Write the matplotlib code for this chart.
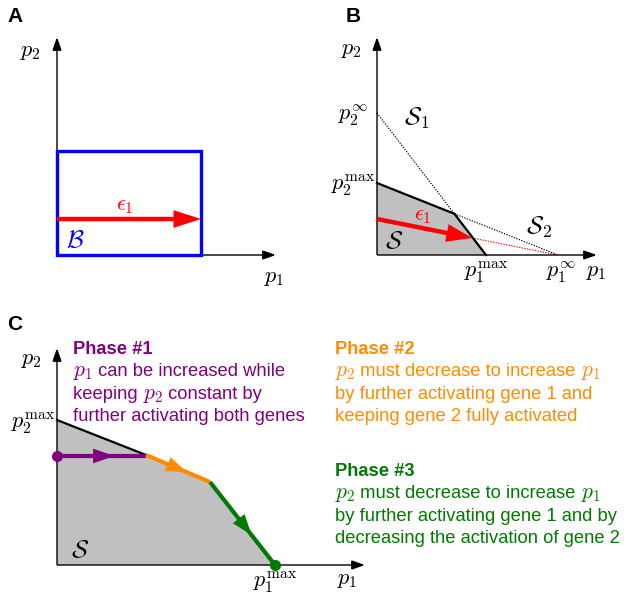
import matplotlib
matplotlib.use("Agg")
import matplotlib.pyplot as plt
from matplotlib.patches import FancyArrowPatch, Polygon, Rectangle

plt.rcParams['mathtext.fontset'] = 'cm'
plt.rcParams['font.family'] = ['Liberation Sans', 'DejaVu Sans']

W, H = 624, 595

# ---------------- data (diagram units, origin at axes crossing) ----------------
# Panel A
A_axis_len = [219, 218]          # x-axis, y-axis lengths
A_box = [144, 104]               # width, height of box B
A_eps_y = 36                     # height of epsilon_1 arrow
# Panel B
B_axis_len = [220, 218]
B_p1_max, B_p2_max = 109, 72
B_p1_inf, B_p2_inf = 181, 142
B_eps_start = [0, 36]
B_eps_end = [95, 17]
# Panel C
C_axis_len = [308, 217]
C_p2_max = 145
C_p1_max = 218
C_kink1 = [89, 110]
C_kink2 = [153, 83]
C_phase1_y = 109

phase_titles = ['Phase #1', 'Phase #2', 'Phase #3']
phase_lines = [
    [['$p_1$', ' can be increased while'], ['keeping ', '$p_2$', ' constant by'],
     ['further activating both genes']],
    [['$p_2$', ' must decrease to increase ', '$p_1$'], ['by further activating gene 1 and'],
     ['keeping gene 2 fully activated']],
    [['$p_2$', ' must decrease to increase ', '$p_1$'], ['by further activating gene 1 and by'],
     ['decreasing the activation of gene 2']],
]

purple = '#800080'
orange = '#ff8c00'
green = '#007a00'

MFS = 16      # math label size
SFS = 18      # calligraphic set label size
LFS = 15      # panel letter size


def make_ax(x0, y0, x1, y1, ox, oy):
    """axes covering pixel rect (x0,y0)-(x1,y1); data origin at pixel (ox,oy); 1 unit = 1px"""
    ax = fig.add_axes([x0 / W, 1 - y1 / H, (x1 - x0) / W, (y1 - y0) / H])
    ax.set_xlim(x0 - ox, x1 - ox)
    ax.set_ylim(-(y1 - oy), oy - y0)
    ax.axis('off')
    return ax


def arrow(ax, p0, p1, color='k', lw=1.0, hl=8, hw=2.8, z=5):
    a = FancyArrowPatch(p0, p1, arrowstyle=f"-|>,head_length={hl},head_width={hw}",
                        mutation_scale=1, color=color, lw=lw, shrinkA=0, shrinkB=0,
                        zorder=z, joinstyle='miter', capstyle='butt')
    ax.add_patch(a)


def axes_arrows(ax, lx, ly):
    arrow(ax, (0, 0), (lx, 0))
    arrow(ax, (0, 0), (0, ly))


fig = plt.figure(figsize=(W / 100, H / 100), dpi=100)
renderer = fig.canvas.get_renderer()

# ---------------- Panel A ----------------
axA = make_ax(0, 0, 310, 300, 57, 255)
axes_arrows(axA, *A_axis_len)
axA.add_patch(Rectangle((0, 0), A_box[0], A_box[1], fill=False, ec='#0000ff', lw=2.4, zorder=6))
arrow(axA, (0, A_eps_y), (A_box[0], A_eps_y), color='#ff0000', lw=3.2, hl=13, hw=4.2, z=7)
axA.text(A_box[0] * 0.47, A_eps_y + 3, r'$\epsilon_1$', color='#ff0000', fontsize=MFS, ha='center', va='bottom')
axA.text(9, 15, r'$\mathcal{B}$', color='#0000ff', fontsize=SFS, ha='left', va='center')
axA.text(-27, 204, r'$p_2$', fontsize=MFS, ha='center', va='center')
axA.text(217, -22, r'$p_1$', fontsize=MFS, ha='center', va='center')
axA.text(-50, 238, 'A', fontsize=LFS, fontweight='bold', ha='left', va='center')

# ---------------- Panel B ----------------
axB = make_ax(310, 0, 624, 300, 377, 255)
axes_arrows(axB, *B_axis_len)
# kink = intersection of the two constraint lines S1 and S2
s1 = B_p2_inf / B_p1_max
s2 = B_p2_max / B_p1_inf
kx = (B_p2_inf - B_p2_max) / (s1 - s2)
ky = B_p2_inf - s1 * kx
poly = Polygon([(0, 0), (0, B_p2_max), (kx, ky), (B_p1_max, 0)], closed=True,
               fc='#c0c0c0', ec='none', zorder=1)
axB.add_patch(poly)
axB.plot([0, kx, B_p1_max], [B_p2_max, ky, 0], color='k', lw=1.6, zorder=3, solid_joinstyle='miter')
axB.plot([0, kx], [B_p2_inf, ky], color='k', lw=0.8, ls=(0, (1.2, 1.2)), zorder=2)
axB.plot([kx, B_p1_inf], [ky, 0], color='k', lw=0.8, ls=(0, (1.2, 1.2)), zorder=2)
axB.plot([B_eps_end[0], B_p1_inf], [B_eps_end[1], 0], color='#ff0000', lw=0.8, ls=(0, (1.2, 1.2)), zorder=2)
arrow(axB, tuple(B_eps_start), tuple(B_eps_end), color='#ff0000', lw=3.2, hl=12, hw=4.2, z=7)
axB.text(46, 40, r'$\epsilon_1$', color='#ff0000', fontsize=MFS, ha='center', va='center')
axB.text(17, 14, r'$\mathcal{S}$', fontsize=SFS, ha='center', va='center')
axB.text(40, 137, r'$\mathcal{S}_1$', fontsize=SFS, ha='center', va='center')
axB.text(162, 28, r'$\mathcal{S}_2$', fontsize=SFS, ha='center', va='center')
axB.text(-26, 205, r'$p_2$', fontsize=MFS, ha='center', va='center')
axB.text(-24, 140, r'$p_2^\infty$', fontsize=MFS, ha='center', va='center')
axB.text(-24, 70, r'$p_2^{\max}$', fontsize=MFS, ha='center', va='center')
axB.text(B_p1_max, -17, r'$p_1^{\max}$', fontsize=MFS, ha='center', va='center')
axB.text(B_p1_inf + 3, -17, r'$p_1^\infty$', fontsize=MFS, ha='center', va='center')
axB.text(219, -17, r'$p_1$', fontsize=MFS, ha='center', va='center')
axB.text(-31, 238, 'B', fontsize=LFS, fontweight='bold', ha='left', va='center')

# ---------------- Panel C ----------------
axC = make_ax(0, 300, 624, 595, 57, 565)
axes_arrows(axC, *C_axis_len)
polyC = Polygon([(0, 0), (0, C_p2_max), tuple(C_kink1), tuple(C_kink2), (C_p1_max, 0)], closed=True,
                fc='#c0c0c0', ec='none', zorder=1)
axC.add_patch(polyC)
axC.plot([0, C_kink1[0]], [C_p2_max, C_kink1[1]], color='k', lw=1.6, zorder=3)


def phase_seg(p0, p1, color, frac=0.64):
    axC.plot([p0[0], p1[0]], [p0[1], p1[1]], color=color, lw=3.0, zorder=4, solid_capstyle='butt')
    mid = (p0[0] + frac * (p1[0] - p0[0]), p0[1] + frac * (p1[1] - p0[1]))
    arrow(axC, p0, mid, color=color, lw=0.01, hl=15, hw=5.3, z=5)


phase_seg((0, C_phase1_y), (C_kink1[0], C_phase1_y), purple)
phase_seg(tuple(C_kink1), tuple(C_kink2), orange)
phase_seg(tuple(C_kink2), (C_p1_max, 0), green)
axC.plot([0], [C_phase1_y], 'o', color=purple, ms=7, zorder=6)
axC.plot([C_p1_max], [0], 'o', color=green, ms=7, zorder=6)

axC.text(23, 15, r'$\mathcal{S}$', fontsize=SFS, ha='center', va='center')
axC.text(-26, 205, r'$p_2$', fontsize=MFS, ha='center', va='center')
axC.text(-24, 142, r'$p_2^{\max}$', fontsize=MFS, ha='center', va='center')
axC.text(C_p1_max, -17, r'$p_1^{\max}$', fontsize=MFS, ha='center', va='center')
axC.text(290, -15, r'$p_1$', fontsize=MFS, ha='center', va='center')
axC.text(-50, 241, 'C', fontsize=LFS, fontweight='bold', ha='left', va='center')

fs = 13.2
mfs = 15.5
lh = 22.3


def rich_line(x, y, parts, color):
    """draw text parts sequentially on a common baseline; math parts set larger"""
    for p in parts:
        t = axC.text(x, y, p, color=color, fontsize=(mfs if p.startswith('$') else fs),
                     va='baseline', ha='left')
        x += t.get_window_extent(renderer).width   # 1 data unit == 1 px


phase_x = [73 - 57, 335 - 57, 335 - 57]
phase_y = [565 - 354, 565 - 354, 565 - 476]
phase_colors = [purple, orange, green]
for k in range(3):
    axC.text(phase_x[k], phase_y[k], phase_titles[k], color=phase_colors[k], fontsize=fs,
             fontweight='bold', va='baseline')
    for i, parts in enumerate(phase_lines[k]):
        rich_line(phase_x[k], phase_y[k] - lh * (i + 1), parts, phase_colors[k])

fig.savefig('out.png', dpi=100)
